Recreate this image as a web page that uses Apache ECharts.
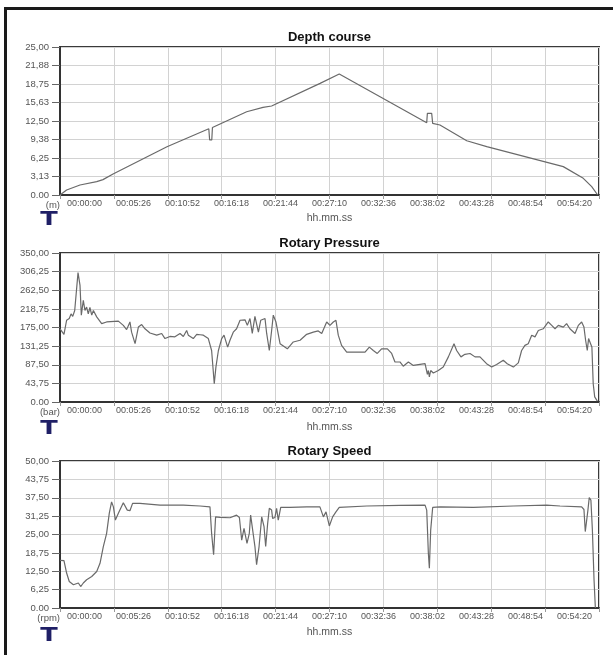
<!DOCTYPE html>
<html>
<head>
<meta charset="utf-8">
<script src="https://cdn.jsdelivr.net/npm/echarts@6/dist/echarts.min.js"></script>
<style>
html,body{margin:0;padding:0;background:#fff;}
#chart{width:613px;height:655px;}
</style>
</head>
<body>
<div id="chart"></div>
<script>
// ---- data (time in seconds from start) ----
const timeLabels = ['00:00:00','00:05:26','00:10:52','00:16:18','00:21:44','00:27:10','00:32:36','00:38:02','00:43:28','00:48:54','00:54:20'];
const titles = ['Depth course', 'Rotary Pressure', 'Rotary Speed'];
const units = ['(m)', '(bar)', '(rpm)'];
const yMax = [25, 350, 50];

const depthPoints = [[0,0],[6,0.2],[40,0.84],[121,1.69],[222,2.25],[260,2.6],[321,3.55],[647,8.16],[900,11.2],[905,9.3],[918,9.3],[922,11.4],[1129,14.07],[1228,14.8],[1280,15.03],[1573,18.86],[1689,20.44],[2218,12.22],[2222,13.8],[2248,13.8],[2254,12.1],[2298,11.82],[2460,9.17],[2581,8.16],[3044,4.79],[3165,2.82],[3216,1.41],[3252,0]];

const pressurePoints = [[0,172],[10,170],[24,159],[40,192],[56,196],[67,207],[77,201],[89,215],[97,219],[109,304],[121,274],[129,204],[141,239],[151,215],[161,223],[171,207],[181,222],[192,204],[202,215],[222,200],[252,184],[282,188],[353,190],[383,180],[403,170],[423,188],[433,164],[454,137],[474,176],[494,182],[514,172],[544,162],[585,157],[615,161],[635,149],[665,154],[695,153],[726,161],[746,154],[766,168],[776,157],[806,149],[827,159],[847,158],[867,157],[897,149],[917,121],[933,43],[943,82],[958,121],[978,149],[992,157],[1014,129],[1028,145],[1048,164],[1068,172],[1089,192],[1119,193],[1133,180],[1149,196],[1163,161],[1179,201],[1200,164],[1214,192],[1240,196],[1250,161],[1266,121],[1280,168],[1290,204],[1306,188],[1331,137],[1375,125],[1411,141],[1452,145],[1492,159],[1532,164],[1562,167],[1583,161],[1613,188],[1633,180],[1653,188],[1669,192],[1683,157],[1703,133],[1734,117],[1774,117],[1804,117],[1845,117],[1855,121],[1871,129],[1895,121],[1919,114],[1945,125],[1980,125],[2006,114],[2026,94],[2056,94],[2076,84],[2107,94],[2137,86],[2167,88],[2208,90],[2222,65],[2228,74],[2234,59],[2242,74],[2258,68],[2288,74],[2318,82],[2349,106],[2383,137],[2399,121],[2425,106],[2449,112],[2480,114],[2510,106],[2540,106],[2580,90],[2611,82],[2641,88],[2681,98],[2705,90],[2742,82],[2772,92],[2792,121],[2812,133],[2832,137],[2853,157],[2873,153],[2893,168],[2923,172],[2953,188],[2974,180],[2994,172],[3014,180],[3044,176],[3064,184],[3084,172],[3115,161],[3135,180],[3155,188],[3169,176],[3179,145],[3189,121],[3197,149],[3209,137],[3217,129],[3225,43],[3234,12],[3250,2]];

const speedPoints = [[0,16.2],[10,16.4],[24,16.1],[40,11.9],[56,9.0],[81,7.9],[111,8.5],[125,7.3],[141,8.5],[161,9.6],[192,10.7],[222,12.4],[242,15.2],[262,20.9],[282,25.4],[298,32.2],[312,36.1],[323,34.4],[335,29.9],[353,32.2],[383,35.8],[407,33.3],[423,33.1],[439,35.6],[484,35.6],[605,35.0],[746,35.0],[847,34.7],[907,34.4],[917,25.4],[929,18.1],[941,31.0],[968,30.8],[1028,30.7],[1068,31.6],[1085,30.8],[1099,23.1],[1113,27.1],[1131,22.0],[1145,25.4],[1153,31.6],[1165,31.0],[1179,20.9],[1189,14.7],[1204,20.9],[1220,31.0],[1234,27.7],[1244,20.9],[1256,28.8],[1266,33.9],[1280,33.3],[1286,30.5],[1300,30.8],[1310,33.9],[1320,29.9],[1335,34.2],[1391,34.2],[1492,34.4],[1572,34.4],[1578,33.9],[1593,31.0],[1609,32.7],[1629,27.9],[1649,31.0],[1669,32.7],[1689,34.2],[1855,34.7],[2056,34.9],[2208,35.0],[2218,33.3],[2228,18.6],[2234,13.5],[2242,26.5],[2254,34.2],[2298,34.4],[2500,34.2],[2742,34.7],[2943,35.0],[3024,34.7],[3155,34.4],[3169,33.5],[3177,26.0],[3185,26.5],[3193,33.3],[3201,37.6],[3211,36.7],[3220,26.5],[3230,9.6],[3238,0]];

const seriesData = [depthPoints, pressurePoints, speedPoints];

// ---- layout ----
const FONT = '"Liberation Sans", Arial, sans-serif';
const grids = [
  {left: 60, right: 14, top: 47, height: 148},
  {left: 60, right: 14, top: 253, height: 149},
  {left: 60, right: 14, top: 461, height: 147}
];
const titleTops = [31, 237, 445];
const nameGaps = [18, 20, 19];
const tCenters = [220, 429, 636];

const fmtY = v => v === 0 ? '0.00' : v.toFixed(2).replace('.', ',');

const option = {
  animation: false,
  backgroundColor: '#fff',
  textStyle: {fontFamily: FONT},
  title: titles.map((t, i) => ({
    text: t, left: 329.5, top: titleTops[i], textAlign: 'center', padding: 0,
    textStyle: {fontSize: 13, fontWeight: 'bold', color: '#111', fontFamily: FONT}
  })),
  grid: grids.map(g => Object.assign({show: true, borderColor: '#3a3a3a', borderWidth: 2, backgroundColor: '#fff'}, g)),
  xAxis: [],
  yAxis: [],
  series: [],
  graphic: []
};

for (let i = 0; i < 3; i++) {
  option.xAxis.push({
    type: 'value', gridIndex: i, min: 0, max: 3260, interval: 326,
    name: 'hh.mm.ss', nameLocation: 'middle', nameGap: nameGaps[i],
    nameTextStyle: {fontSize: 10.5, color: '#555', fontFamily: FONT},
    axisLine: {show: true, onZero: false, lineStyle: {color: '#333', width: 2}},
    axisTick: {show: true, length: 4, lineStyle: {color: '#999'}},
    axisLabel: {show: false},
    splitLine: {show: true, lineStyle: {color: '#d2d2d2', width: 1}}
  });
}
for (let i = 0; i < 3; i++) {
  option.xAxis.push({
    type: 'category', gridIndex: i, data: timeLabels, boundaryGap: true, position: 'bottom',
    axisLine: {show: false}, axisTick: {show: false}, splitLine: {show: false},
    axisLabel: {interval: 0, fontSize: 9, color: '#555', margin: 4, fontFamily: FONT}
  });
}
for (let i = 0; i < 3; i++) {
  option.yAxis.push({
    type: 'value', gridIndex: i, min: 0, max: yMax[i], interval: yMax[i] / 8,
    name: units[i], nameLocation: 'start', nameGap: 7,
    nameTextStyle: {fontSize: 9.5, color: '#555', align: 'right', verticalAlign: 'middle', fontFamily: FONT},
    axisLine: {show: true, lineStyle: {color: '#333', width: 2}},
    axisTick: {show: true, length: 8, lineStyle: {color: '#666'}},
    axisLabel: {formatter: fmtY, fontSize: 9.5, color: '#555', margin: 11, fontFamily: FONT},
    splitLine: {show: true, lineStyle: {color: '#d2d2d2', width: 1}}
  });
  option.series.push({
    type: 'line', xAxisIndex: i, yAxisIndex: i, data: seriesData[i],
    showSymbol: false, symbol: 'none',
    lineStyle: {color: '#6a6a6a', width: 1.2}
  });
  option.graphic.push({
    type: 'text', x: 49, y: tCenters[i], scaleX: 1.35,
    style: {text: 'T', font: '900 19px "DejaVu Sans", sans-serif', fill: '#1f1f66', align: 'center', verticalAlign: 'middle'}
  });
}
// outer frame (left and top edges)
option.graphic.push({type: 'line', shape: {x1: 5.5, y1: 7, x2: 5.5, y2: 655}, style: {stroke: '#1a1a1a', lineWidth: 3}});
option.graphic.push({type: 'line', shape: {x1: 4, y1: 8.5, x2: 613, y2: 8.5}, style: {stroke: '#1a1a1a', lineWidth: 3}});

const chart = echarts.init(document.getElementById('chart'));
chart.setOption(option);
</script>
</body>
</html>
